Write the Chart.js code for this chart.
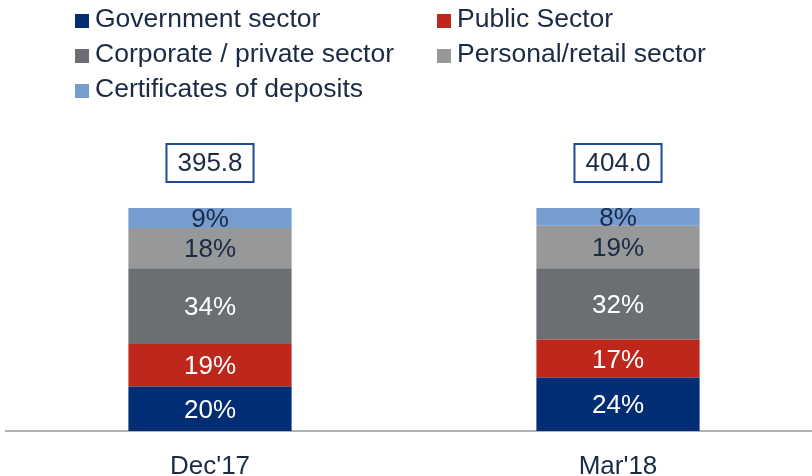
<!DOCTYPE html>
<html>
<head>
<meta charset="utf-8">
<script src="https://cdn.jsdelivr.net/npm/chart.js@4"></script>
<style>
  html, body { margin: 0; padding: 0; background: #fff; overflow: hidden; }
  body { width: 812px; height: 476px; position: relative; font-family: "Liberation Sans", Arial, sans-serif; }
  #chart { position: absolute; left: 0; top: 0; }
  .legend-item {
    position: absolute;
    height: 35px;
    line-height: 35px;
    font-size: 26.5px;
    color: #1b2a45;
    white-space: nowrap;
  }
  .legend-item span {
    display: inline-block;
    width: 14px;
    height: 14px;
    margin-right: 6px;
    vertical-align: -1px;
  }
</style>
</head>
<body>
<canvas id="chart" width="822" height="476"></canvas>
<div id="legend"></div>
<script>
  const categories = ["Dec'17", "Mar'18"];
  const totals = [395.8, 404.0];

  const seriesNames = [
    "Government sector",
    "Public Sector",
    "Corporate / private sector",
    "Personal/retail sector",
    "Certificates of deposits",
  ];
  const government = [20, 24];
  const publicSector = [19, 17];
  const corporate = [34, 32];
  const retail = [18, 19];
  const certificates = [9, 8];

  const seriesValues = [government, publicSector, corporate, retail, certificates];
  const colors = ["#002d74", "#bd271c", "#6b6e72", "#979899", "#769dcf"];
  const labelColors = ["#ffffff", "#ffffff", "#ffffff", "#1b2a45", "#1b2a45"];

  const FONT = '"Liberation Sans", Arial, sans-serif';
  const TEXT = "#1b2a45";

  // legend laid out in two columns above the chart
  const legendSlots = [
    [75, 1], [437, 1],
    [75, 36], [437, 36],
    [75, 71],
  ];
  const legend = document.getElementById("legend");
  seriesNames.forEach((name, i) => {
    const item = document.createElement("div");
    item.className = "legend-item";
    item.style.left = legendSlots[i][0] + "px";
    item.style.top = legendSlots[i][1] + "px";
    item.innerHTML = `<span style="background:${colors[i]}"></span>${name}`;
    legend.appendChild(item);
  });

  // percentages inside each segment and boxed totals above the bars
  const segmentLabels = {
    id: "segmentLabels",
    afterDatasetsDraw(chart) {
      const ctx = chart.ctx;
      ctx.save();
      ctx.font = `26px ${FONT}`;
      ctx.textAlign = "center";
      ctx.textBaseline = "middle";
      chart.data.datasets.forEach((ds, i) => {
        const meta = chart.getDatasetMeta(i);
        meta.data.forEach((bar, j) => {
          const y = (bar.y + bar.base) / 2;
          ctx.fillStyle = labelColors[i];
          ctx.fillText(ds.data[j] + "%", bar.x, y + 2);
        });
      });

      const top = chart.getDatasetMeta(chart.data.datasets.length - 1);
      top.data.forEach((bar, j) => {
        const txt = totals[j].toFixed(1);
        const w = ctx.measureText(txt).width + 22;
        const h = 38;
        const cy = bar.y - 45;
        ctx.strokeStyle = "#1f4a9a";
        ctx.lineWidth = 2;
        ctx.fillStyle = "#fff";
        ctx.fillRect(bar.x - w / 2, cy - h / 2, w, h);
        ctx.strokeRect(bar.x - w / 2, cy - h / 2, w, h);
        ctx.fillStyle = TEXT;
        ctx.fillText(txt, bar.x, cy + 1);
      });
      ctx.restore();
    },
  };

  new Chart(document.getElementById("chart"), {
    type: "bar",
    data: {
      labels: categories,
      datasets: seriesNames.map((name, i) => ({
        label: name,
        data: seriesValues[i],
        backgroundColor: colors[i],
        borderWidth: 0,
        categoryPercentage: 1,
        barPercentage: 0.4,
      })),
    },
    options: {
      responsive: false,
      animation: false,
      layout: { padding: { left: 6, top: 208, right: 0, bottom: 0 } },
      plugins: {
        legend: { display: false },
        tooltip: { enabled: false },
      },
      scales: {
        x: {
          stacked: true,
          grid: { display: false, drawTicks: false },
          border: { display: true, color: "#b0b1b5", width: 2 },
          ticks: {
            color: TEXT,
            padding: 20,
            font: { family: FONT, size: 26 },
          },
          afterFit(scale) {
            scale.height = 45;
          },
        },
        y: {
          stacked: true,
          display: false,
          min: 0,
          max: 100,
        },
      },
    },
    plugins: [segmentLabels],
  });
</script>
</body>
</html>
